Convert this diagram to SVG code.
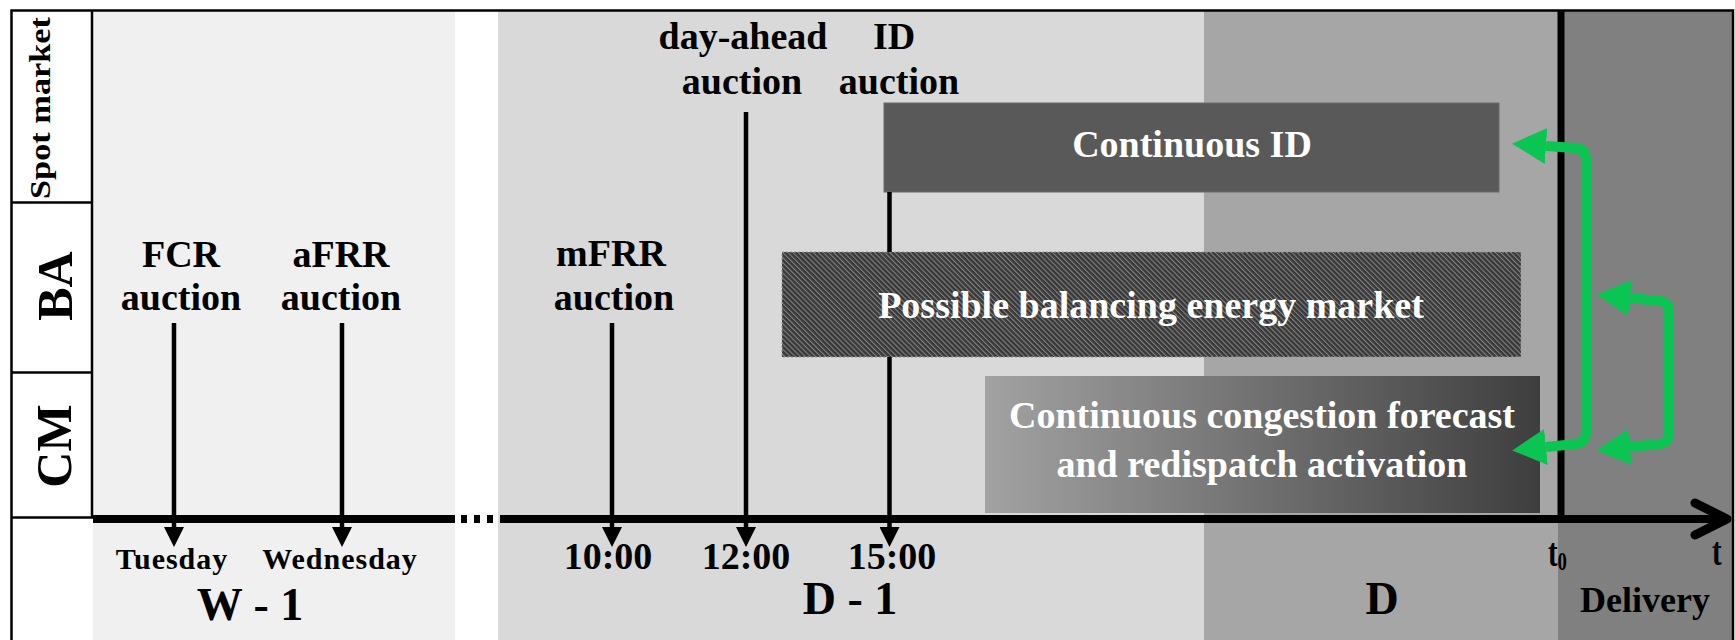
<svg xmlns="http://www.w3.org/2000/svg" width="1735" height="640" viewBox="0 0 1735 640">
  <defs>
    <style>
      .lbl{font-family:"Liberation Serif","Times New Roman",serif;font-weight:bold;fill:#000;text-anchor:middle}
      .w{fill:#fff}
      .s38{font-size:38px}
      .s46{font-size:46px}
      .day{font-size:30px;letter-spacing:1px}
      .frame{stroke:#000;stroke-width:2.5;fill:none}
      .conn{stroke:#000;stroke-width:4.5;fill:none;marker-end:url(#ah)}
      .link{stroke:#0bc553;stroke-width:10;fill:none;stroke-linejoin:round;marker-start:url(#gh);marker-end:url(#gh)}
    </style>
    <marker id="ah" markerUnits="userSpaceOnUse" markerWidth="20" markerHeight="20" viewBox="0 0 20 20" refX="10" refY="10" orient="auto">
      <path d="M0,0 L20,10 L0,20 z" fill="#000"/>
    </marker>
    <marker id="gh" markerUnits="userSpaceOnUse" markerWidth="34" markerHeight="36" viewBox="0 0 34 36" refX="0" refY="18" orient="auto-start-reverse">
      <path d="M0,0 L34,18 L0,36 z" fill="#0bc553"/>
    </marker>
    <pattern id="hatch" patternUnits="userSpaceOnUse" width="3.6" height="3.6" patternTransform="rotate(-45)">
      <rect width="3.6" height="3.6" fill="#383838"/>
      <line x1="0.6" y1="0" x2="0.6" y2="3.6" stroke="#8a8a8a" stroke-width="1"/>
    </pattern>
    <linearGradient id="cmGrad" x1="0" y1="0" x2="1" y2="0">
      <stop offset="0" stop-color="#a2a2a2"/>
      <stop offset="1" stop-color="#3e3e3e"/>
    </linearGradient>
  </defs>

  <!-- time periods -->
  <g id="background">
    <rect x="0" y="0" width="1735" height="640" fill="#fff"/>
    <rect x="93" y="11" width="362" height="629" fill="#f0f0f0"/>
    <rect x="498" y="11" width="706" height="629" fill="#d9d9d9"/>
    <rect x="1204" y="11" width="356" height="629" fill="#a6a6a6"/>
    <rect x="1558" y="11" width="175" height="629" fill="#808080"/>
    <path class="frame" d="M11.5,640 V10.5 H1733 V640"/>
    <line class="frame" x1="92" y1="10" x2="92" y2="518"/>
    <line class="frame" x1="11" y1="202.5" x2="93" y2="202.5"/>
    <line class="frame" x1="11" y1="372.5" x2="93" y2="372.5"/>
    <line class="frame" x1="11" y1="517.5" x2="93" y2="517.5"/>
    <line x1="1561" y1="11" x2="1561" y2="515" stroke="#000" stroke-width="7"/>
  </g>

  <!-- market rows -->
  <g id="row-spot"><text class="lbl" font-size="30" transform="translate(50,108) rotate(-90)" textLength="182" lengthAdjust="spacingAndGlyphs">Spot market</text></g>
  <g id="row-ba"><text class="lbl" font-size="50" transform="translate(72,286) rotate(-90)">BA</text></g>
  <g id="row-cm"><text class="lbl" font-size="50" transform="translate(71,446) rotate(-90)">CM</text></g>

  <!-- auctions -->
  <g id="fcr"><text class="lbl s38" x="181" y="267">FCR</text><text class="lbl s38" x="181" y="310">auction</text></g>
  <g id="afrr"><text class="lbl s38" x="341" y="267">aFRR</text><text class="lbl s38" x="341" y="310">auction</text></g>
  <g id="mfrr"><text class="lbl s38" x="611" y="266">mFRR</text><text class="lbl s38" x="614" y="310">auction</text></g>
  <g id="day-ahead"><text class="lbl s38" x="743" y="49">day-ahead</text><text class="lbl s38" x="742" y="94">auction</text></g>
  <g id="id-auction"><text class="lbl s38" x="894" y="49">ID</text><text class="lbl s38" x="899" y="94">auction</text></g>

  <!-- continuous markets -->
  <g id="continuous-id">
    <rect x="884" y="103" width="615" height="89" fill="#595959" stroke="#6a6a6a" stroke-width="1"/>
    <text class="lbl s38 w" x="1192" y="157">Continuous ID</text>
  </g>
  <g id="balancing-market">
    <rect x="782" y="252" width="739" height="105" fill="url(#hatch)" stroke="#9a9a9a" stroke-width="1" stroke-dasharray="2 2"/>
    <text class="lbl s38 w" x="1151" y="318">Possible balancing energy market</text>
  </g>
  <g id="congestion-management">
    <rect x="985" y="376" width="555" height="137" fill="url(#cmGrad)"/>
    <text class="lbl s38 w" x="1262" y="428">Continuous congestion forecast</text>
    <text class="lbl s38 w" x="1262" y="477">and redispatch activation</text>
  </g>

  <!-- time axis -->
  <g id="time-axis">
    <line x1="93" y1="519" x2="455" y2="519" stroke="#000" stroke-width="8"/>
    <rect x="461" y="515" width="6" height="8" fill="#000"/>
    <rect x="474" y="515" width="6" height="8" fill="#000"/>
    <rect x="487" y="515" width="6" height="8" fill="#000"/>
    <line x1="500" y1="519" x2="1724" y2="519" stroke="#000" stroke-width="8"/>
    <path d="M1695,503 L1727,519 L1695,535" fill="none" stroke="#000" stroke-width="9" stroke-linecap="round" stroke-linejoin="round"/>
  </g>

  <!-- time labels -->
  <g id="time-labels">
    <text class="lbl day" x="172" y="569">Tuesday</text>
    <text class="lbl day" x="340" y="569">Wednesday</text>
    <text class="lbl s46" x="250" y="620">W - 1</text>
    <text class="lbl s38" x="608" y="569">10:00</text>
    <text class="lbl s38" x="746" y="569">12:00</text>
    <text class="lbl s38" x="892" y="569">15:00</text>
    <text class="lbl s46" x="850" y="614">D - 1</text>
    <text class="lbl s46" x="1382" y="614">D</text>
    <text class="lbl" font-size="40" transform="translate(1548,566) scale(0.72,1)" style="text-anchor:start">t<tspan font-size="26" dy="4">0</tspan></text>
    <text class="lbl" font-size="40" transform="translate(1712,565) scale(0.72,1)" style="text-anchor:start">t</text>
    <text class="lbl" font-size="36" x="1645" y="612">Delivery</text>
  </g>

  <!-- connectors -->
  <g id="connectors">
    <line class="conn" x1="174" y1="323" x2="174" y2="537"/>
    <line class="conn" x1="342" y1="323" x2="342" y2="537"/>
    <line class="conn" x1="612" y1="323" x2="612" y2="537"/>
    <line class="conn" x1="746" y1="112" x2="746" y2="537"/>
    <path class="conn" d="M889.5,192 V252 M889.5,357 V537"/>
    <path class="link" d="M1546,146 L1575,148 Q1586,149 1586,160 L1586,432 Q1586,443 1575,444 L1546,447"/>
    <path class="link" d="M1630,298 L1659,301 Q1669,302 1669,312 L1669,433 Q1669,443 1659,444 L1630,447"/>
  </g>
</svg>
